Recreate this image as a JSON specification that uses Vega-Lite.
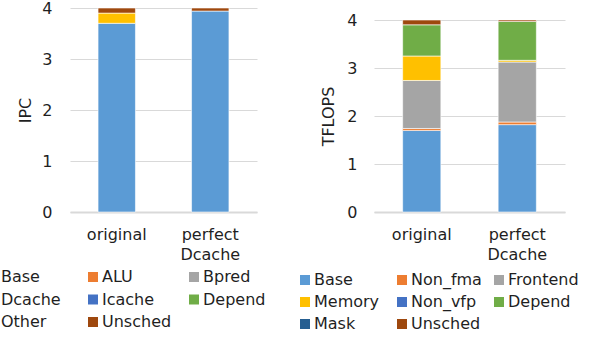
{
  "$schema": "https://vega.github.io/schema/vega-lite/v6.json",
  "padding": {"left": -16, "top": 0, "right": 0, "bottom": 0},
  "background": "white",
  "bounds": "flush",
  "spacing": 117,
  "config": {
    "view": {"stroke": null},
    "font": "DejaVu Sans",
    "axis": {"labelFont": "DejaVu Sans", "titleFont": "DejaVu Sans", "labelFontSize": 16, "titleFontSize": 16, "labelColor": "#1f1f1f", "titleColor": "#1f1f1f", "titleFontWeight": "normal"},
    "legend": {"labelFont": "DejaVu Sans", "labelFontSize": 16, "labelColor": "#1f1f1f", "padding": 0}
  },
  "resolve": {"scale": {"color": "independent", "y": "independent"}, "legend": {"color": "independent"}},
  "hconcat": [
    {
      "width": 187,
      "height": 204,
      "data": {"values": [
        {"cfg": "original", "cat": "Base", "k": 1, "v": 3.70},
        {"cfg": "original", "cat": "Dcache", "k": 4, "v": 0.20},
        {"cfg": "original", "cat": "Unsched", "k": 8, "v": 0.10},
        {"cfg": "perfect Dcache", "cat": "Base", "k": 1, "v": 3.94},
        {"cfg": "perfect Dcache", "cat": "Unsched", "k": 8, "v": 0.06}
      ]},
      "mark": {"type": "bar", "stroke": "white", "strokeWidth": 0.6},
      "encoding": {
        "x": {"field": "cfg", "type": "nominal", "sort": ["original", "perfect Dcache"],
          "scale": {"paddingInner": 0.6, "paddingOuter": 0.3},
          "axis": {"title": null, "labelAngle": 0, "ticks": false, "domainColor": "#D9D9D9", "domainWidth": 2, "labelPadding": 14, "labelLineHeight": 20, "labelBaseline": "top", "labelExpr": "split(datum.label, ' ')"}},
        "y": {"field": "v", "type": "quantitative", "stack": "zero",
          "scale": {"domain": [0, 4], "nice": false},
          "axis": {"title": "IPC", "values": [0, 1, 2, 3, 4], "domain": false, "ticks": false, "gridColor": "#D9D9D9", "labelPadding": 18, "titlePadding": 8}},
        "color": {"field": "cat", "type": "nominal",
          "scale": {"domain": ["Base", "ALU", "Bpred", "Dcache", "Icache", "Depend", "Other", "Unsched"],
            "range": ["#5B9BD5", "#ED7D31", "#A5A5A5", "#FFC000", "#4472C4", "#70AD47", "#255E91", "#9E480E"]},
          "legend": {"title": null, "orient": "none", "legendX": -86, "legendY": 261, "columns": 3, "direction": "horizontal", "gridAlign": "all", "columnPadding": 14, "rowPadding": 6.5, "symbolType": "square", "symbolSize": 100, "symbolStrokeWidth": 0, "labelOffset": 1}},
        "order": {"field": "k", "type": "quantitative"}
      }
    },
    {
      "width": 191,
      "height": 204,
      "data": {"values": [
        {"cfg": "original", "cat": "Base", "k": 1, "v": 1.70},
        {"cfg": "original", "cat": "Non_fma", "k": 2, "v": 0.04},
        {"cfg": "original", "cat": "Frontend", "k": 3, "v": 1.00},
        {"cfg": "original", "cat": "Memory", "k": 4, "v": 0.51},
        {"cfg": "original", "cat": "Depend", "k": 6, "v": 0.65},
        {"cfg": "original", "cat": "Unsched", "k": 8, "v": 0.10},
        {"cfg": "perfect Dcache", "cat": "Base", "k": 1, "v": 1.82},
        {"cfg": "perfect Dcache", "cat": "Non_fma", "k": 2, "v": 0.055},
        {"cfg": "perfect Dcache", "cat": "Frontend", "k": 3, "v": 1.25},
        {"cfg": "perfect Dcache", "cat": "Memory", "k": 4, "v": 0.035},
        {"cfg": "perfect Dcache", "cat": "Depend", "k": 6, "v": 0.81},
        {"cfg": "perfect Dcache", "cat": "Unsched", "k": 8, "v": 0.03}
      ]},
      "mark": {"type": "bar", "stroke": "white", "strokeWidth": 0.6},
      "encoding": {
        "x": {"field": "cfg", "type": "nominal", "sort": ["original", "perfect Dcache"],
          "scale": {"paddingInner": 0.6, "paddingOuter": 0.3},
          "axis": {"title": null, "labelAngle": 0, "ticks": false, "domainColor": "#D9D9D9", "domainWidth": 2, "labelPadding": 14, "labelLineHeight": 20, "labelBaseline": "top", "labelExpr": "split(datum.label, ' ')"}},
        "y": {"field": "v", "type": "quantitative", "stack": "zero",
          "scale": {"domain": [0, 4.25], "nice": false},
          "axis": {"title": "TFLOPS", "values": [0, 1, 2, 3, 4], "domain": false, "ticks": false, "gridColor": "#D9D9D9", "labelPadding": 17, "titlePadding": 10, "titleY": 108}},
        "color": {"field": "cat", "type": "nominal",
          "scale": {"domain": ["Base", "Non_fma", "Frontend", "Memory", "Non_vfp", "Depend", "Mask", "Unsched"],
            "range": ["#5B9BD5", "#ED7D31", "#A5A5A5", "#FFC000", "#4472C4", "#70AD47", "#255E91", "#9E480E"]},
          "legend": {"title": null, "orient": "none", "legendX": -77, "legendY": 264, "columns": 3, "direction": "horizontal", "gridAlign": "all", "columnPadding": 9, "rowPadding": 6, "symbolType": "square", "symbolSize": 100, "symbolStrokeWidth": 0, "labelOffset": 1}},
        "order": {"field": "k", "type": "quantitative"}
      }
    }
  ]
}
